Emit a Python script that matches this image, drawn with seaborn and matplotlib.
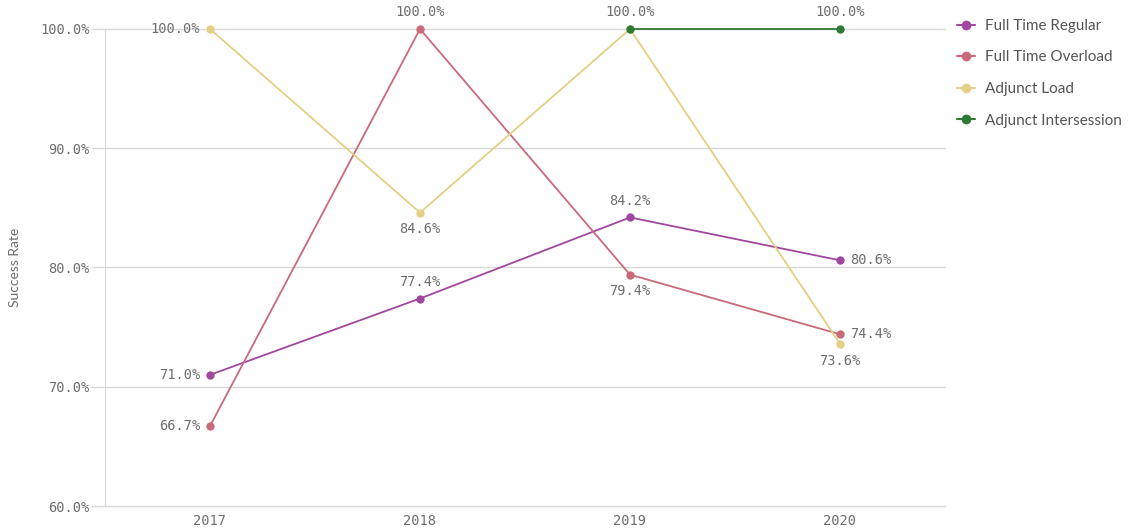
import pandas as pd
import matplotlib.pyplot as plt
import seaborn as sns
from matplotlib.lines import Line2D

years = ['2017', '2018', '2019', '2020']
full_time_regular = [71.0, 77.4, 84.2, 80.6]
full_time_overload = [66.7, 100.0, 79.4, 74.4]
adjunct_load = [100.0, 84.6, 100.0, 73.6]
adjunct_intersession = [None, None, 100.0, 100.0]

series_names = ['Full Time Regular', 'Full Time Overload', 'Adjunct Load', 'Adjunct Intersession']
colors = ['#a1479f', '#c96a7b', '#e3cf85', '#2f7a34']

# where each value label goes: l = left, a = above, b = below, r = right, None = no label
label_pos = {
    'Full Time Regular': ['l', 'a', 'a', 'r'],
    'Full Time Overload': ['l', 'a', 'b', 'r'],
    'Adjunct Load': ['l', 'b', None, 'b'],
    'Adjunct Intersession': [None, None, 'a', 'a'],
}

rows = []
for name, vals in zip(series_names, [full_time_regular, full_time_overload, adjunct_load, adjunct_intersession]):
    for y, v in zip(years, vals):
        if v is not None:
            rows.append({'Year': y, 'Rate': v, 'Series': name})
df = pd.DataFrame(rows)

sns.set_style('white')
mono = 'DejaVu Sans Mono'
grey = '#6e6e6e'
grid = '#d9d9d9'

fig = plt.figure(figsize=(11.34, 5.31), dpi=100)
ax = fig.add_axes([105/1134, 1-506/531, 840/1134, 477/531])

sns.lineplot(data=df, x='Year', y='Rate', hue='Series', hue_order=series_names,
             palette=colors, marker='o', markersize=6, markeredgewidth=0,
             linewidth=1.3, ax=ax, legend=False, clip_on=False, sort=False)

ax.set_xlim(-0.5, 3.5)
ax.set_ylim(60, 100)
ticks = [60, 70, 80, 90, 100]
ax.set_yticks(ticks)
ax.set_yticklabels([f'{t:.1f}%' for t in ticks], family=mono, fontsize=9.8, color=grey)
ax.set_xticks(range(4))
ax.set_xticklabels(years, family=mono, fontsize=9.8, color=grey)
ax.tick_params(axis='y', left=True, length=10, width=1, color=grid, pad=1)
ax.tick_params(axis='x', bottom=False, length=0, pad=6)
for t in ticks:
    ax.axhline(t, color=grid, linewidth=1, zorder=0, clip_on=False)
for s in ['top', 'right', 'bottom']:
    ax.spines[s].set_visible(False)
ax.spines['left'].set_color(grid)
ax.spines['left'].set_zorder(0)
ax.set_xlabel('')
ax.set_ylabel('Success Rate', fontsize=10, color=grey, family='Lato')
ax.yaxis.set_label_coords(-0.1, 0.5)

offsets = {'l': (-7, 0, 'right', 'center'), 'r': (7, 0, 'left', 'center'),
           'a': (0, 7, 'center', 'bottom'), 'b': (0, -7, 'center', 'top')}
for name, vals in zip(series_names, [full_time_regular, full_time_overload, adjunct_load, adjunct_intersession]):
    for i, v in enumerate(vals):
        p = label_pos[name][i]
        if v is None or p is None:
            continue
        dx, dy, ha, va = offsets[p]
        ax.annotate(f'{v:.1f}%', (i, v), xytext=(dx, dy), textcoords='offset points',
                    ha=ha, va=va, family=mono, fontsize=9.8, color=grey)

handles = [Line2D([0], [0], color=c, marker='o', markersize=6, linewidth=1.5) for c in colors]
leg = ax.legend(handles, series_names, loc='upper left', bbox_to_anchor=(0.998, 1.05),
                frameon=False, handlelength=1.2, handletextpad=0.6, labelspacing=1.15,
                prop={'family': 'Lato', 'size': 11})
for t in leg.get_texts():
    t.set_color('#555555')

fig.savefig('out.png', dpi=100)
